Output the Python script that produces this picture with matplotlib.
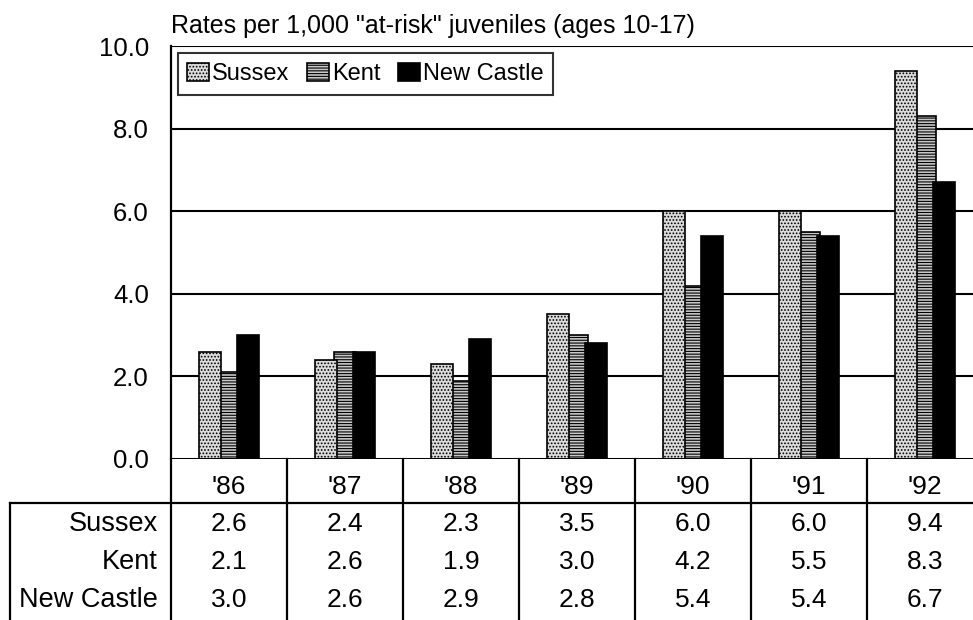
import numpy as np
import matplotlib
matplotlib.use('Agg')
import matplotlib.pyplot as plt
from matplotlib.lines import Line2D

plt.rcParams['font.family'] = ['Liberation Sans', 'DejaVu Sans']
plt.rcParams['hatch.linewidth'] = 0.8

years = ["'86", "'87", "'88", "'89", "'90", "'91", "'92"]
series = ['Sussex', 'Kent', 'New Castle']
sussex = [2.6, 2.4, 2.3, 3.5, 6.0, 6.0, 9.4]
kent = [2.1, 2.6, 1.9, 3.0, 4.2, 5.5, 8.3]
newcastle = [3.0, 2.6, 2.9, 2.8, 5.4, 5.4, 6.7]
yticks = [0, 2, 4, 6, 8, 10]

W, H = 973, 620
fig = plt.figure(figsize=(W / 100, H / 100), dpi=100)

# axes placed in pixel terms, right side cut off like the scan
left_px, right_px, top_px, bot_px = 171, 973, 46, 459
col_w = 116
ax = fig.add_axes([left_px / W, 1 - bot_px / H, (right_px - left_px) / W, (bot_px - top_px) / H])
ax.set_xlim(-0.5, -0.5 + (right_px - left_px) / col_w)
ax.set_ylim(0, 10)

x = np.arange(len(years))
bw = 0.19
styles = [
    dict(facecolor='#dcdcdc', hatch='.....', edgecolor='black', zorder=4),
    dict(facecolor='#c8c8c8', hatch='------', edgecolor='black', zorder=3),
    dict(facecolor='black', edgecolor='black', zorder=4),
]
offsets = [-0.16, 0.0, 0.16]
handles = []
for vals, st, off, name in zip([sussex, kent, newcastle], styles, offsets, series):
    b = ax.bar(x + off, vals, bw, linewidth=1.2, label=name, **st)
    handles.append(b)

ax.set_yticks(yticks)
ax.set_yticklabels(['%.1f' % v for v in yticks], fontsize=18.5)
ax.tick_params(axis='y', length=0, pad=16)
ax.set_xticks([])
for v in yticks[1:]:
    ax.axhline(v, color='black', lw=1.5, zorder=1)
ax.axhline(0, color='black', lw=2.2, zorder=5)
for sp in ['top', 'right', 'bottom']:
    ax.spines[sp].set_visible(False)
ax.spines['left'].set_linewidth(1.6)

leg = ax.legend(handles=handles, loc='upper left', bbox_to_anchor=(7 / (right_px - left_px), 0.982),
                ncol=3, fontsize=17, frameon=True, fancybox=False, edgecolor='black',
                handlelength=0.9, handleheight=0.8, handletextpad=0.15, columnspacing=0.75,
                borderpad=0.4, borderaxespad=0)
leg.get_frame().set_linewidth(1.5)

fig.text(171 / W, 1 - 33 / H, 'Rates per 1,000 "at-risk" juveniles (ages 10-17)',
         fontsize=18, ha='left', va='baseline')

# data table below the chart
def fy(py):
    return 1 - py / H

def fx(px):
    return px / W

lines = [
    Line2D([fx(10), fx(973)], [fy(503), fy(503)], lw=1.6, color='black'),
    Line2D([fx(10), fx(10)], [fy(503), fy(620)], lw=1.6, color='black'),
]
for k in range(len(years) + 1):
    xp = left_px + k * col_w
    if xp < W:
        lines.append(Line2D([fx(xp), fx(xp)], [fy(bot_px), fy(620)], lw=1.6, color='black'))
for ln in lines:
    fig.add_artist(ln)

row_y = [524, 562, 600]
for i, yr in enumerate(years):
    cx = left_px + (i + 0.5) * col_w
    fig.text(fx(cx), fy(487), yr, fontsize=19, ha='center', va='center')
    for vals, ry in zip([sussex, kent, newcastle], row_y):
        fig.text(fx(cx), fy(ry), '%.1f' % vals[i], fontsize=19, ha='center', va='center')
for name, ry in zip(series, row_y):
    fig.text(fx(158), fy(ry), name, fontsize=19.5, ha='right', va='center')

fig.savefig('out.png', dpi=100)
